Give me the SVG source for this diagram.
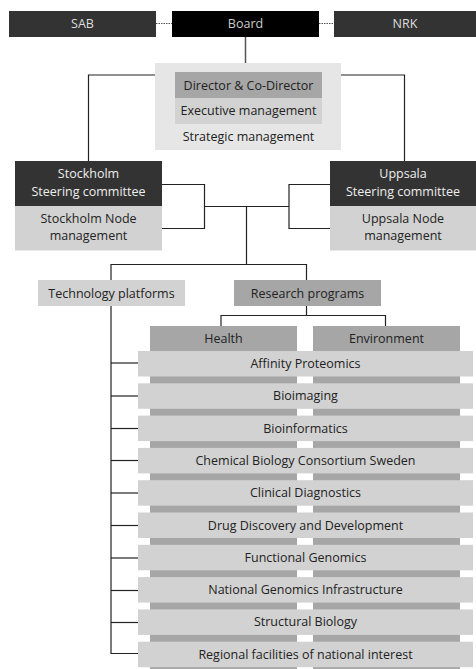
<svg xmlns="http://www.w3.org/2000/svg" width="476" height="669" viewBox="0 0 476 669">
<style>
text{font-family:"Open Sans","Noto Sans","DejaVu Sans",sans-serif;font-size:12.5px;text-anchor:middle;fill:#222}
.ln{fill:none;stroke:#222;stroke-width:1.2}
.dot{fill:none;stroke:#555;stroke-width:1;stroke-dasharray:1.5,1}
.mid{fill:#a6a6a6}
.pale{fill:#d2d2d2}
.dark{fill:#333}
</style>
<rect x="0" y="0" width="476" height="669" fill="#fff"/>
<g id="connectors">
<line class="dot" x1="156" y1="23.5" x2="172" y2="23.5"/>
<line class="dot" x1="319" y1="23.5" x2="334" y2="23.5"/>
<line x1="245.5" y1="37" x2="245.5" y2="63" stroke="#555" stroke-width="1.5"/>
<polyline class="ln" points="155,75 88.5,75 88.5,161"/>
<polyline class="ln" points="341,75 404.5,75 404.5,161"/>
<polyline class="ln" points="162,184.5 204.5,184.5 204.5,228.5 162,228.5"/>
<polyline class="ln" points="330,184.5 289,184.5 289,228.5 330,228.5"/>
<line class="ln" x1="204.5" y1="206.5" x2="289" y2="206.5"/>
<line class="ln" x1="246.5" y1="206.5" x2="246.5" y2="264.5"/>
<polyline class="ln" points="111,280 111,264.5 306.5,264.5 306.5,280"/>
<line class="ln" x1="306.5" y1="306" x2="306.5" y2="315.5"/>
<polyline class="ln" points="221,326 221,315.5 385.5,315.5 385.5,326"/>
<polyline class="ln" points="111,306 111,653.5 138,653.5"/>
<line class="ln" x1="111" y1="363" x2="138" y2="363"/>
<line class="ln" x1="111" y1="396" x2="138" y2="396"/>
<line class="ln" x1="111" y1="428.5" x2="138" y2="428.5"/>
<line class="ln" x1="111" y1="460.5" x2="138" y2="460.5"/>
<line class="ln" x1="111" y1="493" x2="138" y2="493"/>
<line class="ln" x1="111" y1="525.5" x2="138" y2="525.5"/>
<line class="ln" x1="111" y1="558" x2="138" y2="558"/>
<line class="ln" x1="111" y1="590.5" x2="138" y2="590.5"/>
<line class="ln" x1="111" y1="622.5" x2="138" y2="622.5"/>
</g>
<g id="sab"><rect class="dark" x="9" y="11" width="147" height="26"/><text x="82.5" y="28" style="fill:#ddd">SAB</text></g>
<g id="board"><rect x="172" y="11" width="147" height="26" fill="#000"/><text x="245.5" y="28" style="fill:#ccc">Board</text></g>
<g id="nrk"><rect class="dark" x="334" y="11" width="142" height="26"/><text x="405" y="28" style="fill:#ddd">NRK</text></g>
<g id="management">
<rect x="155" y="63" width="186" height="87" fill="#e6e6e6"/>
<rect class="mid" x="175" y="72" width="147" height="26"/>
<rect class="pale" x="175" y="98" width="147" height="26"/>
<text x="248.5" y="89.5">Director &amp; Co-Director</text>
<text x="248.5" y="115">Executive management</text>
<text x="248.5" y="141">Strategic management</text>
</g>
<g id="stockholm">
<rect class="dark" x="15" y="161" width="147" height="45"/>
<rect class="pale" x="15" y="206" width="147" height="44.5"/>
<text x="88.5" y="178" style="fill:#eee"><tspan x="88.5">Stockholm</tspan><tspan x="88.5" dy="17.5">Steering committee</tspan></text>
<text x="88.5" y="222.5"><tspan x="88.5">Stockholm Node</tspan><tspan x="88.5" dy="17">management</tspan></text>
</g>
<g id="uppsala">
<rect class="dark" x="330" y="161" width="146" height="45"/>
<rect class="pale" x="330" y="206" width="146" height="44.5"/>
<text x="403" y="178" style="fill:#eee"><tspan x="403">Uppsala</tspan><tspan x="403" dy="17.5">Steering committee</tspan></text>
<text x="403" y="222.5"><tspan x="403">Uppsala Node</tspan><tspan x="403" dy="17">management</tspan></text>
</g>
<g id="techplatforms"><rect class="pale" x="38" y="280" width="147" height="26"/><text x="111.5" y="297.5">Technology platforms</text></g>
<g id="research"><rect class="mid" x="234" y="280" width="147" height="26"/><text x="307.5" y="297.5">Research programs</text></g>
<g id="health"><rect class="mid" x="150" y="326" width="147" height="343"/><text x="223.5" y="343">Health</text></g>
<g id="environment"><rect class="mid" x="313" y="326" width="147" height="343"/><text x="386.5" y="343">Environment</text></g>
<g id="p1"><rect class="pale" x="138" y="351" width="335" height="25.5"/><text x="305.5" y="368">Affinity Proteomics</text></g>
<g id="p2"><rect class="pale" x="138" y="383.3" width="335" height="25.5"/><text x="305.5" y="400.3">Bioimaging</text></g>
<g id="p3"><rect class="pale" x="138" y="415.6" width="335" height="25.5"/><text x="305.5" y="432.6">Bioinformatics</text></g>
<g id="p4"><rect class="pale" x="138" y="447.9" width="335" height="25.5"/><text x="305.5" y="464.9">Chemical Biology Consortium Sweden</text></g>
<g id="p5"><rect class="pale" x="138" y="480.2" width="335" height="25.5"/><text x="305.5" y="497.2">Clinical Diagnostics</text></g>
<g id="p6"><rect class="pale" x="138" y="512.5" width="335" height="25.5"/><text x="305.5" y="529.5">Drug Discovery and Development</text></g>
<g id="p7"><rect class="pale" x="138" y="544.8" width="335" height="25.5"/><text x="305.5" y="561.8">Functional Genomics</text></g>
<g id="p8"><rect class="pale" x="138" y="577.1" width="335" height="25.5"/><text x="305.5" y="594.1">National Genomics Infrastructure</text></g>
<g id="p9"><rect class="pale" x="138" y="609.4" width="335" height="25.5"/><text x="305.5" y="626.4">Structural Biology</text></g>
<g id="p10"><rect class="pale" x="138" y="641.7" width="335" height="25.5"/><text x="305.5" y="658.7">Regional facilities of national interest</text></g>
</svg>
